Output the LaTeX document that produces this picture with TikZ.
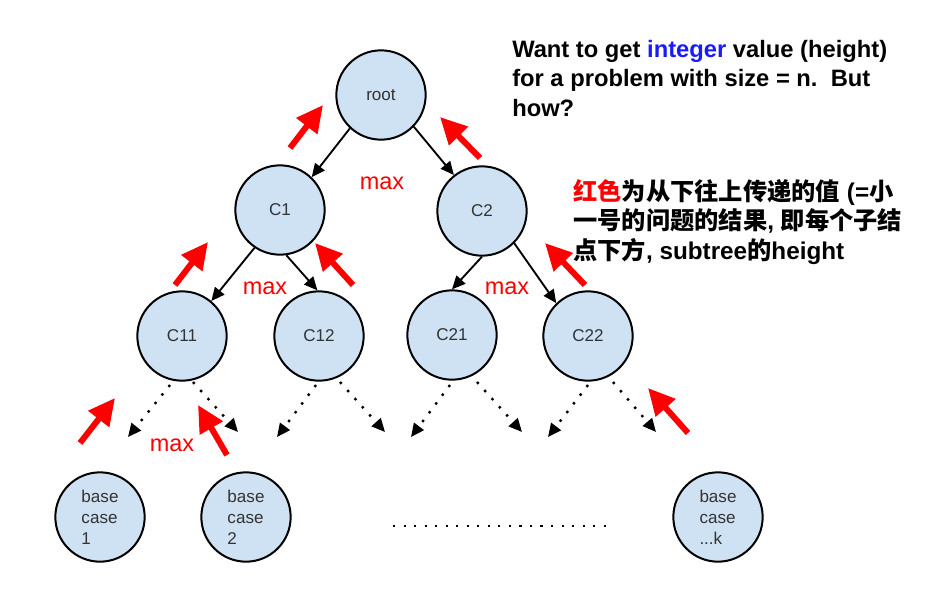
\documentclass[tikz,border=0pt]{standalone}
\usepackage{fontspec}
\setmainfont{Liberation Sans}
\newfontfamily\cjk{Noto Sans CJK SC}
\usetikzlibrary{arrows.meta}
\definecolor{nodefill}{HTML}{CFE2F3}
\definecolor{redc}{HTML}{FF0000}
\definecolor{intblue}{HTML}{1A1AFF}
\definecolor{labelc}{HTML}{333333}
\tikzset{
  tnode/.style={circle, draw=black, line width=1.5pt, fill=nodefill, minimum size=67pt, inner sep=0pt,
    font=\fontsize{12.8}{15.8}\selectfont, text=labelc, align=left},
  solidarrow/.style={line width=1.4pt, -{Triangle[length=10pt,width=9pt]}},
  dotarrow/.style={line width=1.8pt, dash pattern=on 1.8pt off 6.4pt, -{Triangle[length=10pt,width=9pt]}},
  redarrow/.style={draw=redc, line width=4.5pt, -{Triangle[length=20pt,width=19pt]}},
  maxlabel/.style={text=redc, font=\fontsize{17.6}{20}\selectfont, inner sep=0pt},
}
\begin{document}
\begin{tikzpicture}[x=0.75pt, y=-0.75pt]
\useasboundingbox (0,0) rectangle (939,590);

% nodes
\node[tnode] (root) at (381,95) {root};
\node[tnode] (C1) at (280,210) {C1};
\node[tnode] (C2) at (482,211) {C2};
\node[tnode] (C11) at (182,336) {C11};
\node[tnode] (C12) at (319,336) {C12};
\node[tnode] (C21) at (452,335) {C21};
\node[tnode] (C22) at (588,336) {C22};
\node[tnode] (b1) at (100,517) {base\\case\\1};
\node[tnode] (b2) at (246,517) {base\\case\\2};
\node[tnode] (bk) at (718,517) {base\\case\\...k};

% solid arrows
\draw[solidarrow] (root.227) -- (C1.46);
\draw[solidarrow] (root.316) -- (C2.128);
\draw[solidarrow] (C1.236) -- (C11.50);
\draw[solidarrow] (C1.278) -- (C12.92);
\draw[solidarrow] (C2.270) -- (C21.90);
\draw[solidarrow] (C2.315) -- (C22.134);

% dotted arrows
\coordinate (C11l) at (128,437); \coordinate (C11r) at (238,432);
\coordinate (C12l) at (277,437); \coordinate (C12r) at (385,432);
\coordinate (C21l) at (411,437); \coordinate (C21r) at (522,432);
\coordinate (C22l) at (548,437); \coordinate (C22r) at (656,432);
\draw[dotarrow] ([shift={(-12,49)}]C11.center) -- (C11l);
\draw[dotarrow] ([shift={(11,46)}]C11.center) -- (C11r);
\draw[dotarrow] ([shift={(-3,49)}]C12.center) -- (C12l);
\draw[dotarrow] ([shift={(21,46)}]C12.center) -- (C12r);
\draw[dotarrow] ([shift={(-2,50)}]C21.center) -- (C21l);
\draw[dotarrow] ([shift={(25,47)}]C21.center) -- (C21r);
\draw[dotarrow] ([shift={(0,49)}]C22.center) -- (C22l);
\draw[dotarrow] ([shift={(25,46)}]C22.center) -- (C22r);

% horizontal dotted line
\coordinate (h1) at (393,526); \coordinate (h2) at (607,526);
\draw[line width=1.6pt, dash pattern=on 1.6pt off 6.3pt] (h1) -- (h2);

% red arrows
\draw[redarrow] (290,148) -- (323,105);
\draw[redarrow] (480,158) -- (440,117);
\draw[redarrow] (175,285) -- (208,242);
\draw[redarrow] (353,285) -- (315,243);
\draw[redarrow] (585,285) -- (545,243);
\draw[redarrow] (80,443) -- (115,398);
\draw[redarrow] (227,455) -- (198,405);
\draw[redarrow] (688,433) -- (648,388);

% max labels
\node[maxlabel] (m1) at (382,183) {max};
\node[maxlabel] (m2) at (265,288) {max};
\node[maxlabel] (m3) at (507,288) {max};
\node[maxlabel] (m4) at (172,445) {max};

% texts
\node[anchor=north west, align=left, inner sep=0pt, font=\bfseries\fontsize{17.8}{22.1}\selectfont] (t1) at (512,40)
  {Want to get \textcolor{intblue}{integer} value (height)\\for a problem with size = n.\ \ But\\how?};
\node[anchor=north west, align=left, inner sep=0pt, font=\bfseries\fontsize{18.2}{22.1}\selectfont] (t2) at (573,179)
  {{\cjk\color{redc}红色}{\cjk 为从下往上传递的值} (={\cjk 小}\\{\cjk 一号的问题的结果}, {\cjk 即每个子结}\\{\cjk 点下方}, subtree{\cjk 的}height};
\end{tikzpicture}
\end{document}
